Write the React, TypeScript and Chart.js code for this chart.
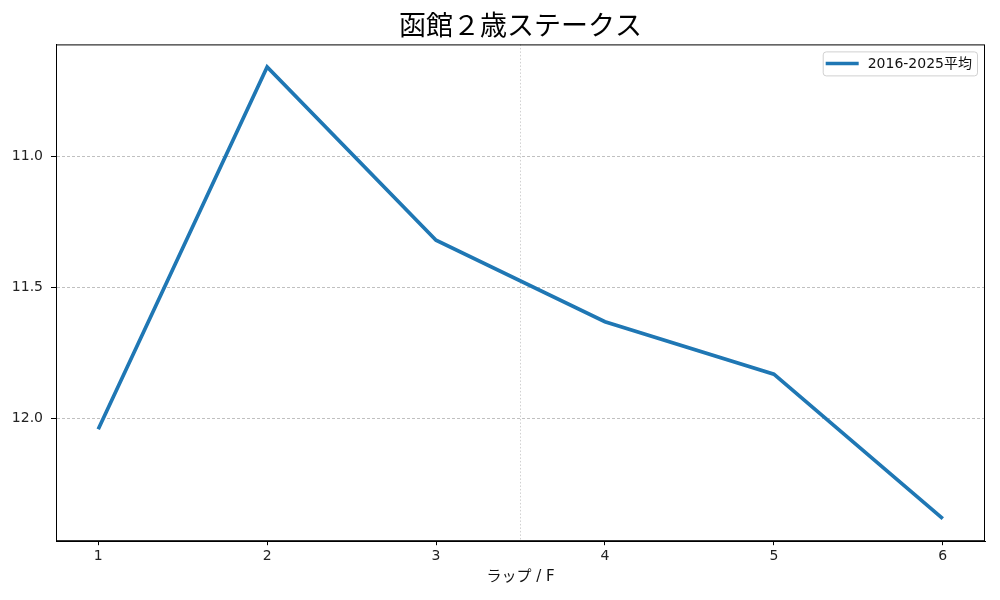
import React, { useEffect, useRef } from "react";
import { Chart, registerables } from "chart.js";

Chart.register(...registerables);

// lap number (x) and average lap time in seconds (y)
const LAP_NUMBERS = [1, 2, 3, 4, 5, 6];
const AVG_TIMES = [12.04, 10.66, 11.32, 11.63, 11.83, 12.38];
const Y_TICKS = [11.0, 11.5, 12.0];
const SERIES_LABEL = "2016-2025平均";
const TITLE = "函館２歳ステークス";
const X_TITLE = "ラップ / F";
const DIVIDER_X = 3.5;

const FONT = "'DejaVu Sans', 'Noto Sans CJK JP', sans-serif";
const LINE_COLOR = "#1f77b4";

// frame, divider line and in-plot legend (matplotlib style)
const framePlugin = {
  id: "frame",
  beforeDatasetsDraw(chart: any) {
    const { ctx, chartArea, scales } = chart;
    const x = scales.x.getPixelForValue(DIVIDER_X);
    ctx.save();
    ctx.strokeStyle = "#c4c4c4";
    ctx.lineWidth = 0.8;
    ctx.setLineDash([1.5, 2]);
    ctx.beginPath();
    ctx.moveTo(x, chartArea.top);
    ctx.lineTo(x, chartArea.bottom);
    ctx.stroke();
    ctx.restore();
  },
  afterDraw(chart: any) {
    const { ctx, chartArea } = chart;
    ctx.save();
    ctx.strokeStyle = "#000";
    ctx.lineWidth = 1;
    ctx.strokeRect(chartArea.left + 0.5, chartArea.top + 0.5, chartArea.right - chartArea.left - 1, chartArea.bottom - chartArea.top - 1);

    // legend box
    ctx.font = `14px ${FONT}`;
    const textW = ctx.measureText(SERIES_LABEL).width;
    const boxW = textW + 50;
    const boxH = 24;
    const bx = chartArea.right - 8 - boxW;
    const by = chartArea.top + 7;
    ctx.fillStyle = "rgba(255,255,255,0.8)";
    ctx.strokeStyle = "#d0d0d0";
    ctx.lineWidth = 1;
    ctx.beginPath();
    ctx.roundRect(bx + 0.5, by + 0.5, boxW, boxH, 3);
    ctx.fill();
    ctx.stroke();
    ctx.strokeStyle = LINE_COLOR;
    ctx.lineWidth = 3.5;
    ctx.beginPath();
    ctx.moveTo(bx + 3, by + boxH / 2);
    ctx.lineTo(bx + 36, by + boxH / 2);
    ctx.stroke();
    ctx.fillStyle = "#111";
    ctx.textBaseline = "middle";
    ctx.fillText(SERIES_LABEL, bx + 45, by + boxH / 2 + 1);
    ctx.restore();
  },
};

export default function App() {
  const canvasRef = useRef<HTMLCanvasElement | null>(null);

  useEffect(() => {
    if (!canvasRef.current) return;
    const chart = new Chart(canvasRef.current, {
      type: "line",
      data: {
        datasets: [
          {
            label: SERIES_LABEL,
            data: LAP_NUMBERS.map((x, i) => ({ x, y: AVG_TIMES[i] })),
            borderColor: LINE_COLOR,
            borderWidth: 3.7,
            pointRadius: 0,
            tension: 0,
          },
        ],
      },
      options: {
        responsive: false,
        animation: false,
        devicePixelRatio: 1,
        layout: { padding: { left: 0, right: 15, top: 0, bottom: 2 } },
        plugins: {
          legend: { display: false },
          tooltip: { enabled: false },
          title: {
            display: true,
            text: TITLE,
            fullSize: false,
            color: "#000",
            font: { family: FONT, size: 27, weight: "normal" },
            padding: { top: 12, bottom: 0 },
          },
        },
        scales: {
          x: {
            type: "linear",
            min: 0.75,
            max: 6.25,
            afterBuildTicks: (scale: any) => {
              scale.ticks = LAP_NUMBERS.map((v) => ({ value: v }));
            },
            ticks: {
              color: "#222",
              font: { family: FONT, size: 14 },
              padding: 3,
              callback: (v: any) => String(v),
            },
            grid: { drawOnChartArea: false, tickLength: 4, tickColor: "#000" },
            border: { color: "#000" },
            title: {
              display: true,
              text: X_TITLE,
              color: "#111",
              font: { family: FONT, size: 15 },
              padding: { top: 0, bottom: 12 },
            },
          },
          y: {
            type: "linear",
            reverse: true,
            min: 10.574,
            max: 12.466,
            afterBuildTicks: (scale: any) => {
              scale.ticks = Y_TICKS.map((v) => ({ value: v }));
            },
            afterFit: (scale: any) => {
              scale.width = 56;
            },
            ticks: {
              color: "#222",
              font: { family: FONT, size: 14 },
              padding: 8,
              callback: (v: any) => Number(v).toFixed(1),
            },
            grid: {
              color: "#b0b0b0",
              lineWidth: 0.8,
              tickLength: 5,
              tickColor: "#000",
              tickWidth: 1,
            },
            border: { color: "#000", dash: [3, 2] },
          },
        },
      },
      plugins: [framePlugin],
    });
    return () => chart.destroy();
  }, []);

  return (
    <div style={{ position: "fixed", left: 0, top: 0, width: 1000, height: 600, background: "#fff" }}>
      <canvas ref={canvasRef} width={1000} height={600} />
    </div>
  );
}
